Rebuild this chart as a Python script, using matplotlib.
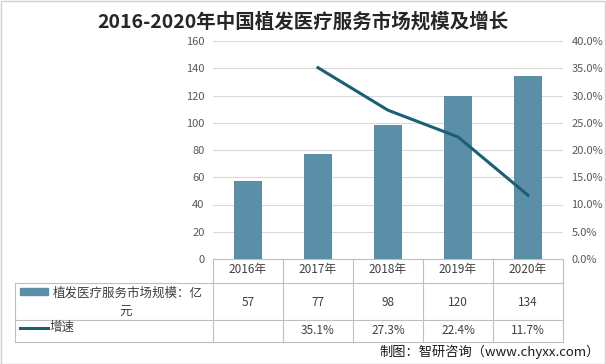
import numpy as np
import matplotlib.pyplot as plt
import matplotlib.transforms as mtransforms
from matplotlib.patches import Rectangle
from matplotlib.lines import Line2D

plt.rcParams['font.family'] = ['Noto Sans CJK SC', 'DejaVu Sans']

years = ["2016年", "2017年", "2018年", "2019年", "2020年"]
market = [57, 77, 98, 120, 134]
growth = [None, 35.1, 27.3, 22.4, 11.7]
bar_name = "植发医疗服务市场规模：亿元"
line_name = "增速"
title = "2016-2020年中国植发医疗服务市场规模及增长"
source = "制图：智研咨询（www.chyxx.com）"

bar_color = "#5b8fa8"
line_color = "#1b5e78"
grid_color = "#d9d9d9"
text_color = "#595959"

W, H = 606, 364
fig = plt.figure(figsize=(W / 100, H / 100), dpi=100)
fig.patch.set_facecolor("white")

def fx(px):
    return px / W

def fy(py):
    return 1 - py / H

ax = fig.add_axes([fx(213), fy(259), fx(563) - fx(213), fy(41) - fy(259)])
x = np.arange(len(years))
ax.bar(x, market, width=0.4, color=bar_color, zorder=3)
ax.set_xlim(-0.5, len(years) - 0.5)
ax.set_ylim(0, 160)
ax.set_yticks(range(0, 161, 20))
ax.yaxis.grid(True, color=grid_color, lw=0.8, zorder=0)
ax.set_xticks([])
for s in ["top", "right", "left"]:
    ax.spines[s].set_visible(False)
ax.spines["bottom"].set_color("#bfbfbf")
ax.tick_params(axis="y", length=0, labelsize=8, labelcolor=text_color, pad=6)

ax2 = ax.twinx()
gx = [i for i, g in enumerate(growth) if g is not None]
gy = [g for g in growth if g is not None]
ax2.plot(gx, gy, color=line_color, lw=2.2, zorder=4)
ax2.set_ylim(0, 40)
ax2.set_yticks(range(0, 41, 5))
ax2.set_yticklabels([f"{v:.1f}%" for v in range(0, 41, 5)])
for s in ax2.spines.values():
    s.set_visible(False)
ax2.tick_params(axis="y", length=0, labelsize=8, labelcolor=text_color, pad=6)

fig.text(0.5, fy(22), title, ha="center", va="center", fontsize=14,
         fontweight="bold", color="#262626")

# data table below the axes
border = "#bfbfbf"
trans = mtransforms.blended_transform_factory(ax.transData, fig.transFigure)
col_edges = [213, 283, 353, 423, 493, 563]
for cx in col_edges:
    fig.add_artist(Line2D([fx(cx), fx(cx)], [fy(259), fy(342)], color=border, lw=0.8))
fig.add_artist(Line2D([fx(15), fx(15)], [fy(283), fy(342)], color=border, lw=0.8))
for ry in [283, 320, 342]:
    fig.add_artist(Line2D([fx(15), fx(563)], [fy(ry), fy(ry)], color=border, lw=0.8))

tcol = "#404040"
for i, yr in enumerate(years):
    fig.text(i, fy(270), yr, transform=trans, ha="center", va="center",
             fontsize=8.5, color=tcol)
    fig.text(i, fy(302), str(market[i]), transform=trans, ha="center",
             va="center", fontsize=8.5, color=tcol)
    if growth[i] is not None:
        fig.text(i, fy(330), f"{growth[i]:.1f}%", transform=trans,
                 ha="center", va="center", fontsize=8.5, color=tcol)

fig.add_artist(Rectangle((fx(20), fy(295)), fx(48) - fx(20), fy(288) - fy(295),
                         transform=fig.transFigure, color=bar_color))
fig.text(fx(53), fy(293), bar_name[:-1], ha="left", va="center", fontsize=9, color=tcol)
fig.text(fx(126), fy(312), bar_name[-1], ha="center", va="center", fontsize=9, color=tcol)
fig.add_artist(Line2D([fx(20), fx(48)], [fy(328), fy(328)], color=line_color, lw=2.2))
fig.text(fx(50), fy(327), line_name, ha="left", va="center", fontsize=9, color=tcol)

fig.text(fx(600), fy(352), source, ha="right", va="center", fontsize=9.5, color="#1a1a1a")

fig.add_artist(Rectangle((0.001, 0.001), 0.998, 0.997, transform=fig.transFigure,
                         fill=False, ec="#d0d0d0", lw=1))

fig.savefig("out.png", dpi=100)
